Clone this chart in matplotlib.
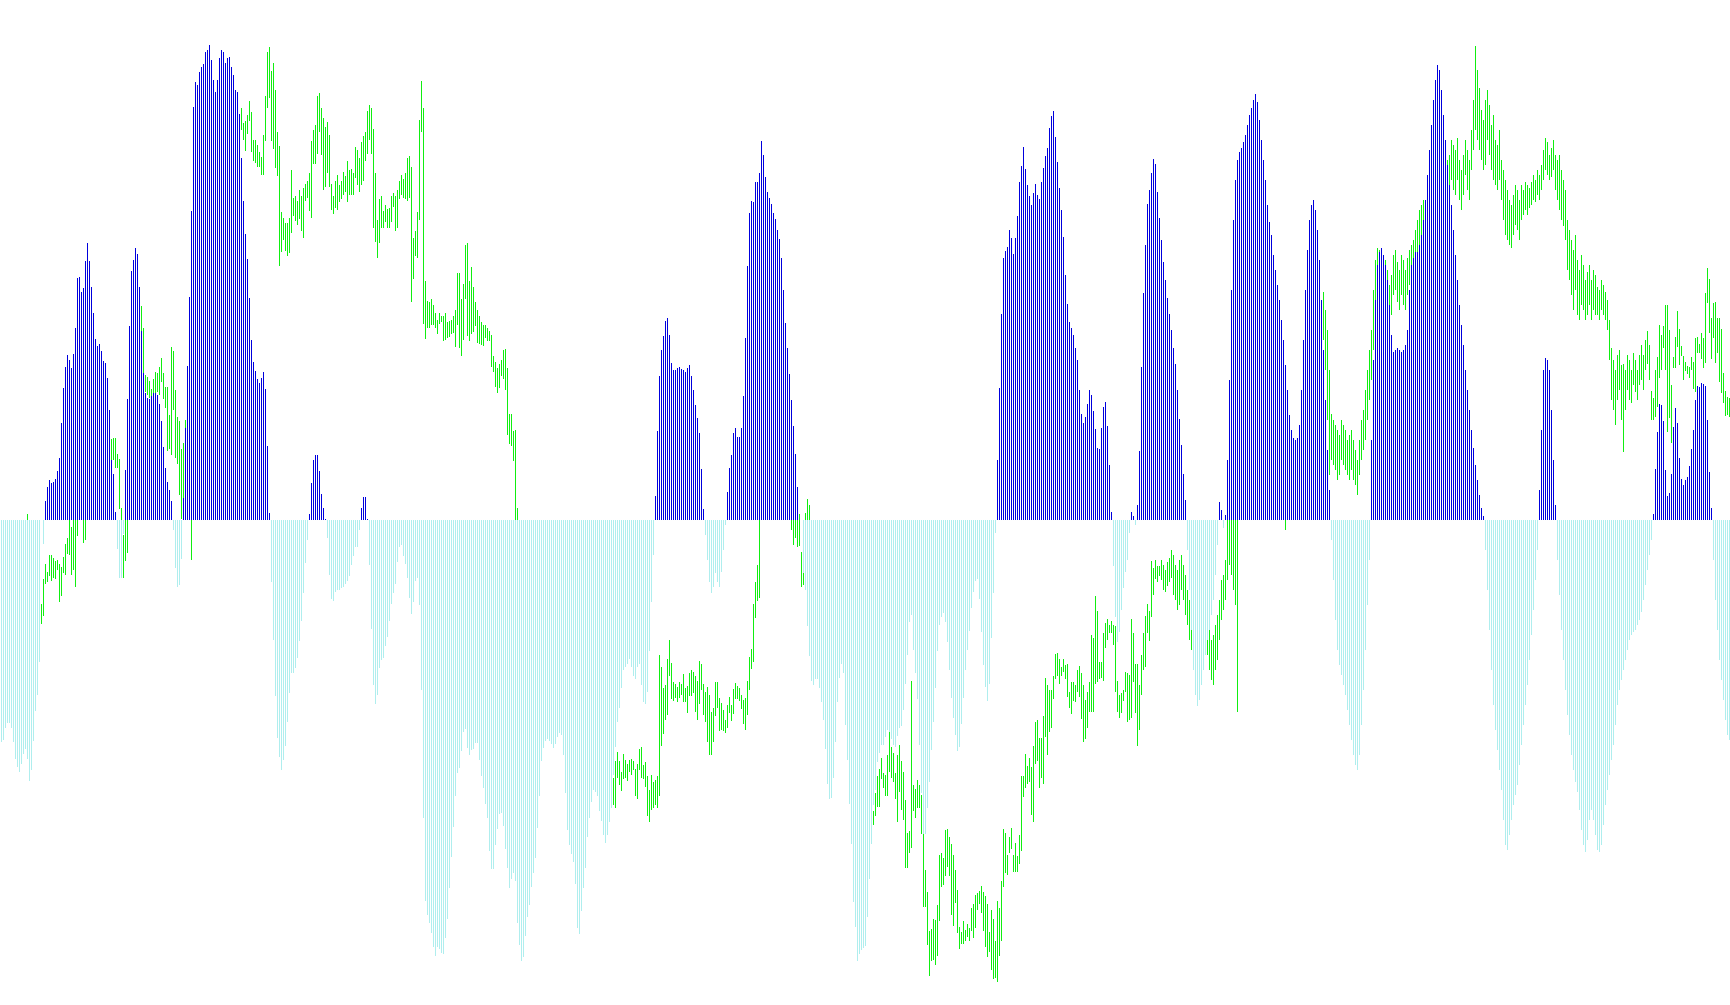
import numpy as np
import matplotlib
matplotlib.use("Agg")
import matplotlib.pyplot as plt

# oscillator histogram, one value per bar
hist = [
    -222, -220, -208, -203, -203, -208, -222, -239, -247, -252,  # 0
    -244, -234, -229, -239, -261, -250, -221, -191, -175, -142,  # 10
    0, -24, 19, 33, 40, 37, 38, 41, 49, 62,  # 20
    97, 132, 153, 165, 160, 152, 166, 192, 242, 243,  # 30
    228, 232, 259, 277, 259, 233, 207, 181, 174, 176,  # 40
    169, 159, 157, 142, 110, 60, 46, 8, -29, -58,  # 50
    -58, -14, 50, 121, 194, 249, 260, 272, 266, 233,  # 60
    189, 147, 127, 122, 121, 124, 127, 127, 125, 116,  # 70
    99, 73, 52, 38, 30, 19, -10, -48, -67, -65,  # 80
    -39, 22, 92, 154, 223, 309, 413, 438, 435, 448,  # 90
    453, 456, 468, 470, 475, 460, 440, 428, 440, 462,  # 100
    470, 468, 457, 462, 463, 453, 445, 430, 428, 406,  # 110
    362, 319, 286, 261, 222, 180, 158, 149, 141, 137,  # 120
    142, 148, 131, 74, 7, -62, -120, -176, -218, -237,  # 130
    -250, -240, -226, -202, -173, -153, -153, -148, -138, -121,  # 140
    -101, -73, -43, -20, 6, 37, 60, 65, 65, 49,  # 150
    26, 12, 1, -18, -55, -79, -81, -72, -70, -70,  # 160
    -68, -67, -64, -61, -56, -45, -36, -27, -27, -10,  # 170
    12, 23, 23, 1, -45, -109, -165, -184, -175, -148,  # 180
    -140, -138, -126, -117, -101, -84, -73, -64, -42, -27,  # 190
    -25, -36, -44, -58, -78, -94, -82, -61, -58, -85,  # 200
    -170, -298, -381, -395, -403, -413, -427, -436, -427, -429,  # 210
    -433, -434, -418, -399, -368, -337, -307, -276, -253, -248,  # 220
    -231, -212, -209, -228, -235, -230, -229, -223, -223, -240,  # 230
    -256, -268, -284, -298, -331, -349, -349, -325, -309, -294,  # 240
    -293, -306, -329, -348, -368, -359, -353, -361, -403, -425,  # 250
    -441, -437, -416, -397, -385, -367, -353, -338, -308, -276,  # 260
    -241, -228, -221, -219, -221, -224, -228, -224, -217, -213,  # 270
    -215, -235, -273, -310, -325, -334, -342, -364, -408, -414,  # 280
    -391, -368, -348, -317, -298, -282, -270, -272, -276, -291,  # 290
    -301, -315, -323, -315, -302, -288, -255, -227, -202, -188,  # 300
    -168, -150, -147, -144, -139, -147, -156, -159, -147, -144,  # 310
    -165, -182, -184, -172, -131, -82, -35, 24, 89, 144,  # 320
    170, 184, 199, 202, 185, 157, 150, 150, 152, 153,  # 330
    151, 150, 148, 152, 155, 144, 130, 115, 102, 87,  # 340
    51, 11, -15, -40, -62, -73, -67, -53, -62, -67,  # 350
    -52, -30, -5, 28, 52, 65, 87, 92, 83, 83,  # 360
    92, 124, 182, 254, 307, 319, 318, 338, 338, 347,  # 370
    379, 365, 343, 328, 322, 316, 307, 301, 290, 281,  # 380
    262, 230, 197, 172, 146, 120, 94, 66, 33, 0,  # 390
    0, -53, -70, -106, -136, -161, -165, -159, -159, -168,  # 400
    -182, -200, -229, -264, -279, -278, -258, -222, -182, -158,  # 410
    -144, -153, -205, -240, -284, -324, -382, -407, -441, -434,  # 420
    -430, -428, -426, -397, -359, -324, -285, -270, -242, -233,  # 430
    -225, -225, -217, -210, -212, -219, -225, -227, -216, -208,  # 440
    -206, -190, -164, -135, -102, -95, -130, -153, -179, -225,  # 450
    -273, -314, -314, -288, -262, -230, -202, -168, -131, -105,  # 460
    -97, -93, -102, -122, -150, -178, -198, -215, -231, -227,  # 470
    -204, -178, -150, -130, -111, -88, -72, -61, -59, -79,  # 480
    -112, -145, -167, -181, -164, -118, -73, -13, 60, 132,  # 490
    206, 262, 269, 273, 290, 282, 266, 282, 304, 338,  # 500
    354, 373, 351, 335, 324, 315, 327, 336, 325, 321,  # 510
    338, 352, 364, 372, 392, 404, 409, 383, 358, 332,  # 520
    310, 283, 245, 216, 198, 192, 185, 172, 160, 130,  # 530
    106, 97, 103, 116, 130, 125, 109, 91, 72, 71,  # 540
    92, 113, 118, 94, 55, 8, -46, -97, -122, -112,  # 550
    -90, -68, -52, -40, -13, 8, 4, -5, 15, 69,  # 560
    153, 227, 275, 316, 330, 347, 361, 356, 328, 302,  # 570
    280, 258, 240, 222, 206, 190, 172, 156, 130, 101,  # 580
    75, 46, 20, -30, -70, -110, -150, -175, -186, -180,  # 590
    -165, -150, -135, -120, -110, -95, -80, -55, -25, 18,  # 600
    10, -8, 5, 60, 140, 230, 300, 340, 360, 368,  # 610
    372, 378, 385, 395, 405, 412, 420, 426, 418, 400,  # 620
    380, 360, 340, 315, 298, 285, 265, 250, 235, 220,  # 630
    200, 180, 155, 130, 105, 90, 82, 80, 82, 95,  # 640
    130, 180, 230, 270, 300, 315, 320, 310, 290, 260,  # 650
    220, 170, 120, 70, 30, -20, -60, -100, -130, -145,  # 660
    -155, -165, -175, -190, -205, -220, -235, -245, -250, -235,  # 670
    -205, -170, -130, -85, -40, 80, 160, 220, 255, 268,  # 680
    272, 265, 255, 240, 215, 185, 168, 170, 172, 170,  # 690
    168, 170, 175, 190, 230, 255, 262, 268, 268, 275,  # 700
    285, 300, 320, 345, 370, 395, 420, 440, 455, 450,  # 710
    430, 405, 380, 355, 335, 315, 290, 265, 240, 215,  # 720
    195, 175, 150, 130, 110, 90, 72, 55, 40, 25,  # 730
    12, 4, -30, -70, -110, -150, -185, -210, -230, -250,  # 740
    -270, -300, -325, -330, -315, -300, -285, -275, -265, -245,  # 750
    -225, -205, -185, -165, -140, -115, -90, -60, -30, 30,  # 760
    90, 150, 162, 160, 150, 110, 60, 15, -40, -75,  # 770
    -110, -140, -170, -195, -215, -235, -250, -262, -272, -290,  # 780
    -310, -325, -332, -320, -300, -290, -300, -315, -330, -332,  # 790
    -325, -305, -285, -270, -255, -240, -225, -205, -185, -170,  # 800
    -160, -150, -140, -130, -120, -115, -112, -110, -105, -100,  # 810
    -92, -80, -65, -50, -35, -20, 6, 51, 88, 116,  # 820
    115, 99, 50, 24, 27, 46, 93, 112, 97, 62,  # 830
    41, 35, 40, 43, 54, 71, 90, 120, 134, 133,  # 840
    137, 136, 134, 100, 48, 12, -40, -80, -110, -140,  # 850
    -160, -180, -200, -215, -220,  # 860
]

# price bars: high of each bar
high = [
    -150, -140, -130, -125, -120, -110, -100, -90, -80, -70,  # 0
    -60, -40, -20, 6, -20, -30, -40, -50, -60, -70,  # 10
    -84, -59, -44, -52, -35, -35, -38, -41, -40, -44,  # 20
    -47, -37, -24, -18, 10, -7, 10, 10, 20, 40,  # 30
    30, 30, 30, 40, 45, 50, 50, 55, 60, 65,  # 40
    70, 75, 75, 80, 85, 81, 82, 82, 66, 61,  # 50
    12, -15, 10, 20, 60, 90, 120, 150, 180, 200,  # 60
    214, 192, 145, 143, 139, 131, 141, 148, 147, 153,  # 70
    162, 147, 133, 133, 105, 173, 169, 130, 103, 99,  # 80
    71, 77, 100, 120, 160, 100, 200, 250, 280, 300,  # 90
    320, 340, 360, 380, 400, 410, 400, 395, 400, 420,  # 100
    430, 420, 410, 415, 420, 410, 405, 400, 405, 400,  # 110
    412, 397, 399, 405, 419, 408, 380, 380, 375, 368,  # 120
    363, 385, 424, 468, 473, 449, 457, 430, 388, 374,  # 130
    308, 302, 297, 297, 302, 350, 322, 324, 319, 330,  # 140
    324, 332, 336, 339, 347, 379, 390, 395, 424, 427,  # 150
    412, 402, 393, 398, 385, 336, 324, 339, 345, 335,  # 160
    339, 348, 344, 359, 350, 351, 347, 373, 370, 362,  # 170
    378, 384, 388, 409, 415, 412, 391, 347, 300, 321,  # 180
    324, 309, 315, 311, 312, 324, 327, 324, 330, 339,  # 190
    345, 341, 347, 362, 364, 353, 282, 289, 308, 400,  # 200
    439, 412, 239, 219, 218, 221, 215, 207, 200, 207,  # 210
    204, 204, 207, 198, 199, 200, 204, 210, 247, 247,  # 220
    221, 236, 275, 277, 239, 253, 233, 218, 210, 204,  # 230
    198, 195, 195, 192, 189, 185, 164, 158, 152, 156,  # 240
    160, 170, 171, 152, 106, 106, 89, 90, 12, -5,  # 250
    -20, -35, -50, -65, -80, -95, -105, -115, -125, -135,  # 260
    -140, -150, -155, -160, -160, -165, -170, -165, -160, -165,  # 270
    -170, -175, -185, -195, -205, -210, -215, -220, -225, -230,  # 280
    -235, -240, -240, -235, -230, -225, -220, -225, -230, -235,  # 290
    -240, -245, -250, -250, -250, -245, -258, -241, -232, -241,  # 300
    -252, -234, -240, -244, -240, -239, -241, -249, -244, -229,  # 310
    -227, -245, -242, -256, -270, -255, -262, -260, -256, -135,  # 320
    -147, -168, -165, -139, -120, -143, -162, -164, -167, -162,  # 330
    -164, -154, -168, -166, -153, -150, -152, -156, -161, -141,  # 340
    -144, -164, -172, -167, -175, -192, -188, -162, -162, -178,  # 350
    -183, -190, -200, -185, -177, -185, -169, -163, -166, -168,  # 360
    -175, -180, -178, -161, -137, -129, -84, -62, -45, 10,  # 370
    40, 60, 80, 100, 110, 120, 115, 110, 100, 95,  # 380
    90, 80, 70, 60, 50, 40, 40, 30, 30, 6,  # 390
    -32, -52, 7, 21, 15, -10, -20, -30, -35, -45,  # 400
    -55, -65, -75, -85, -90, -95, -100, -100, -105, -105,  # 410
    -100, -105, -115, -125, -135, -150, -165, -180, -190, -200,  # 420
    -210, -220, -225, -230, -240, -265, -291, -273, -256, -249,  # 430
    -238, -253, -255, -235, -212, -227, -233, -253, -235, -225,  # 440
    -241, -252, -280, -313, -311, -161, -265, -269, -260, -265,  # 450
    -275, -312, -350, -372, -411, -409, -399, -400, -385, -335,  # 460
    -333, -338, -310, -309, -317, -324, -335, -350, -370, -407,  # 470
    -412, -401, -410, -404, -408, -388, -384, -375, -373, -371,  # 480
    -366, -372, -376, -384, -412, -390, -399, -421, -381, -388,  # 490
    -361, -309, -313, -335, -317, -308, -335, -323, -336, -315,  # 500
    -256, -256, -234, -246, -238, -247, -226, -202, -200, -218,  # 510
    -218, -196, -158, -165, -170, -170, -156, -134, -133, -139,  # 520
    -147, -139, -145, -144, -172, -162, -162, -165, -150, -146,  # 530
    -153, -165, -180, -172, -162, -115, -118, -76, -91, -142,  # 540
    -142, -113, -103, -99, -105, -101, -105, -106, -161, -175,  # 550
    -173, -170, -152, -153, -155, -99, -113, -144, -144, -165,  # 560
    -135, -113, -96, -84, -91, -41, -48, -40, -46, -46,  # 570
    -40, -45, -50, -42, -38, -30, -35, -45, -50, -40,  # 580
    -35, -45, -55, -70, -80, -95, -110, -120, -125, -115,  # 590
    -110, -100, -95, -100, -110, -120, -115, -105, -95, -80,  # 600
    -60, -55, -40, 10, 20, 30, 35, 40, 20, 55,  # 610
    60, 65, 70, 70, 75, 80, 80, 85, 90, 85,  # 620
    80, 75, 70, 70, 65, 60, 55, 50, 45, 40,  # 630
    35, 30, 5, 30, 40, 50, 55, 60, 65, 70,  # 640
    80, 90, 100, 110, 120, 130, 140, 150, 160, 170,  # 650
    180, 228, 210, 190, 150, 106, 100, 95, 90, 85,  # 660
    100, 95, 90, 80, 85, 90, 80, 70, 60, 80,  # 670
    100, 110, 130, 150, 170, 190, 230, 260, 272, 270,  # 680
    255, 245, 260, 250, 235, 245, 265, 270, 258, 250,  # 690
    265, 260, 250, 262, 270, 275, 280, 290, 300, 310,  # 700
    315, 320, 320, 330, 340, 345, 350, 355, 360, 365,  # 710
    370, 375, 370, 360, 365, 380, 375, 370, 382, 360,  # 720
    350, 365, 380, 370, 360, 390, 420, 474, 450, 432,  # 730
    410, 400, 420, 430, 415, 395, 405, 380, 375, 390,  # 740
    360, 350, 340, 330, 320, 315, 325, 335, 330, 320,  # 750
    335, 330, 338, 335, 332, 338, 345, 340, 350, 345,  # 760
    355, 370, 382, 378, 365, 372, 380, 365, 360, 365,  # 770
    350, 340, 330, 300, 290, 280, 270, 285, 260, 250,  # 780
    265, 255, 240, 248, 255, 240, 250, 245, 233, 230,  # 790
    240, 235, 228, 220, 200, 172, 160, 150, 165, 170,  # 800
    155, 156, 150, 165, 160, 150, 167, 160, 150, 165,  # 810
    175, 165, 180, 189, 175, 129, 122, 150, 163, 195,  # 820
    185, 194, 215, 215, 190, 135, 163, 183, 209, 191,  # 830
    174, 164, 158, 154, 153, 163, 158, 182, 183, 176,  # 840
    187, 182, 227, 252, 241, 202, 217, 218, 202, 202,  # 850
    191, 147, 129, 123, 122,  # 860
]

# price bars: low of each bar
low = [
    -190, -185, -175, -170, -165, -160, -150, -140, -130, -120,  # 0
    -110, -90, -70, -40, -80, -90, -100, -110, -120, -120,  # 10
    -104, -96, -64, -62, -56, -61, -58, -59, -50, -82,  # 20
    -76, -53, -55, -34, -35, -55, -50, -67, -16, 5,  # 30
    2, -23, -20, 5, 10, 15, 15, 20, 25, 30,  # 40
    35, 40, 45, 50, 55, 60, 60, 52, 52, 11,  # 50
    0, -58, -41, -33, 20, 50, 80, 110, 140, 160,  # 60
    189, 147, 128, 125, 122, 122, 127, 127, 128, 125,  # 70
    138, 121, 112, 69, 71, 65, 110, 62, 56, 25,  # 80
    1, 15, 80, 60, 100, -40, 140, 190, 220, 250,  # 90
    270, 290, 300, 320, 340, 350, 340, 330, 345, 360,  # 100
    370, 360, 350, 355, 360, 350, 345, 340, 350, 380,  # 110
    390, 380, 369, 386, 399, 368, 359, 357, 353, 353,  # 120
    345, 345, 379, 412, 422, 379, 371, 352, 344, 254,  # 130
    268, 280, 269, 264, 267, 287, 304, 299, 295, 301,  # 140
    289, 282, 319, 322, 309, 302, 356, 356, 366, 388,  # 150
    365, 330, 333, 347, 333, 310, 306, 312, 310, 318,  # 160
    321, 325, 328, 318, 325, 325, 325, 342, 335, 328,  # 170
    335, 339, 359, 366, 380, 366, 292, 278, 262, 277,  # 180
    292, 292, 298, 292, 292, 298, 313, 289, 292, 321,  # 190
    325, 322, 321, 319, 322, 218, 241, 264, 262, 300,  # 200
    388, 196, 181, 192, 192, 195, 195, 192, 186, 196,  # 210
    198, 179, 180, 182, 183, 186, 187, 173, 195, 172,  # 220
    164, 180, 221, 184, 179, 186, 188, 194, 177, 176,  # 230
    175, 174, 182, 179, 179, 153, 148, 133, 127, 132,  # 240
    144, 141, 130, 85, 76, 74, 59, -50, -60, -60,  # 250
    -75, -90, -105, -120, -135, -150, -160, -170, -180, -190,  # 260
    -200, -205, -205, -205, -200, -205, -210, -205, -200, -200,  # 270
    -205, -215, -225, -240, -250, -260, -265, -270, -275, -280,  # 280
    -285, -290, -290, -290, -285, -270, -260, -262, -265, -280,  # 290
    -290, -295, -300, -300, -295, -280, -285, -288, -258, -265,  # 300
    -271, -259, -258, -261, -252, -255, -250, -276, -279, -250,  # 310
    -258, -259, -267, -296, -302, -290, -288, -285, -288, -276,  # 320
    -226, -214, -200, -195, -156, -179, -181, -178, -182, -178,  # 330
    -175, -182, -182, -193, -176, -176, -173, -192, -200, -184,  # 340
    -170, -195, -202, -222, -235, -235, -222, -196, -188, -211,  # 350
    -210, -211, -213, -208, -193, -201, -194, -179, -179, -181,  # 360
    -189, -204, -210, -195, -170, -149, -142, -98, -81, -78,  # 370
    5, 20, 40, 50, 60, 70, 65, 60, 55, 45,  # 380
    40, 30, 20, 10, 5, -10, -25, -18, -27, -26,  # 390
    -67, -65, -40, -30, -20, -50, -60, -70, -80, -90,  # 400
    -100, -110, -120, -130, -135, -140, -140, -140, -145, -150,  # 410
    -138, -145, -160, -175, -190, -200, -215, -230, -240, -250,  # 420
    -260, -270, -275, -280, -290, -300, -305, -296, -287, -287,  # 430
    -259, -268, -276, -276, -252, -258, -262, -279, -302, -272,  # 440
    -290, -300, -348, -348, -333, -328, -291, -298, -288, -288,  # 450
    -314, -387, -387, -425, -456, -441, -440, -445, -436, -401,  # 460
    -367, -365, -356, -347, -356, -395, -406, -383, -413, -429,  # 470
    -424, -424, -421, -417, -421, -411, -418, -408, -390, -384,  # 480
    -393, -411, -427, -437, -432, -450, -459, -458, -462, -436,  # 490
    -421, -367, -353, -355, -333, -329, -352, -352, -352, -344,  # 500
    -331, -277, -268, -264, -262, -295, -302, -244, -241, -268,  # 510
    -258, -264, -217, -235, -212, -208, -179, -159, -156, -164,  # 520
    -156, -152, -159, -177, -188, -194, -181, -182, -172, -177,  # 530
    -199, -222, -219, -208, -192, -192, -192, -164, -162, -159,  # 540
    -158, -161, -128, -120, -113, -113, -125, -172, -192, -198,  # 550
    -193, -181, -172, -202, -200, -198, -162, -193, -226, -210,  # 560
    -175, -150, -147, -113, -121, -97, -75, -59, -62, -56,  # 570
    -60, -70, -72, -66, -62, -58, -75, -80, -90, -85,  # 580
    -70, -80, -95, -105, -120, -130, -140, -150, -160, -150,  # 590
    -145, -140, -130, -135, -150, -160, -165, -150, -140, -120,  # 600
    -100, -90, -80, -60, -45, -55, -70, -85, -192, 30,  # 610
    30, 35, 40, 40, 45, 50, 50, 55, 60, 55,  # 620
    50, 45, 40, 40, 35, 30, 25, 20, 15, 10,  # 630
    10, 8, -10, 5, 10, 15, 20, 25, 30, 35,  # 640
    40, 50, 60, 70, 80, 90, 100, 110, 120, 130,  # 650
    140, 180, 150, 100, 45, 60, 55, 50, 40, 45,  # 660
    60, 55, 50, 45, 40, 50, 40, 35, 25, 45,  # 670
    60, 70, 80, 100, 120, 140, 170, 200, 230, 225,  # 680
    215, 205, 220, 210, 200, 205, 225, 230, 218, 210,  # 690
    225, 215, 210, 225, 235, 240, 245, 255, 265, 270,  # 700
    275, 285, 290, 300, 305, 310, 315, 320, 325, 330,  # 710
    335, 340, 340, 330, 335, 340, 330, 325, 340, 320,  # 720
    310, 325, 345, 330, 320, 350, 370, 390, 380, 370,  # 730
    360, 350, 355, 380, 365, 350, 340, 335, 330, 340,  # 740
    320, 300, 285, 280, 275, 272, 285, 295, 290, 280,  # 750
    300, 305, 310, 305, 312, 315, 320, 318, 325, 320,  # 760
    330, 340, 350, 345, 340, 343, 350, 330, 320, 310,  # 770
    300, 294, 280, 250, 240, 225, 210, 230, 205, 200,  # 780
    215, 210, 200, 205, 215, 200, 210, 205, 205, 200,  # 790
    210, 205, 200, 190, 160, 120, 110, 95, 120, 130,  # 800
    100, 68, 110, 130, 120, 117, 135, 128, 120, 135,  # 810
    140, 130, 150, 156, 140, 100, 100, 103, 113, 142,  # 820
    150, 172, 150, 88, 102, 77, 152, 152, 173, 155,  # 830
    164, 140, 149, 146, 142, 150, 131, 128, 167, 167,  # 840
    161, 152, 157, 217, 187, 161, 182, 157, 167, 138,  # 850
    127, 117, 104, 105, 103,  # 860
]

n = min(len(hist), len(high), len(low))
hist = np.array(hist[:n])
high = np.array(high[:n])
low = np.array(low[:n])
x = np.arange(n)

blue = "#0000dd"
pale = "#afeeee"
green = "#11ee11"

fig = plt.figure(figsize=(17.3, 10.05), dpi=100)
ax = fig.add_axes([0, 0, 1, 1])
# two pixels per bar, each bar one pixel wide
ax.set_xlim(-0.75, 864.25)
ax.set_ylim(-485, 520)
ax.axis("off")

# price bars sit underneath the histogram
ax.bar(x, high - low, bottom=low, width=0.5, color=green,
       linewidth=0, antialiased=False, zorder=1)

up = hist > 0
ax.bar(x[up], hist[up], width=0.5, color=blue,
       linewidth=0, antialiased=False, zorder=2)
ax.bar(x[~up], hist[~up], width=0.5, color=pale,
       linewidth=0, antialiased=False, zorder=2)

fig.savefig("out.png", dpi=100, facecolor="white")
